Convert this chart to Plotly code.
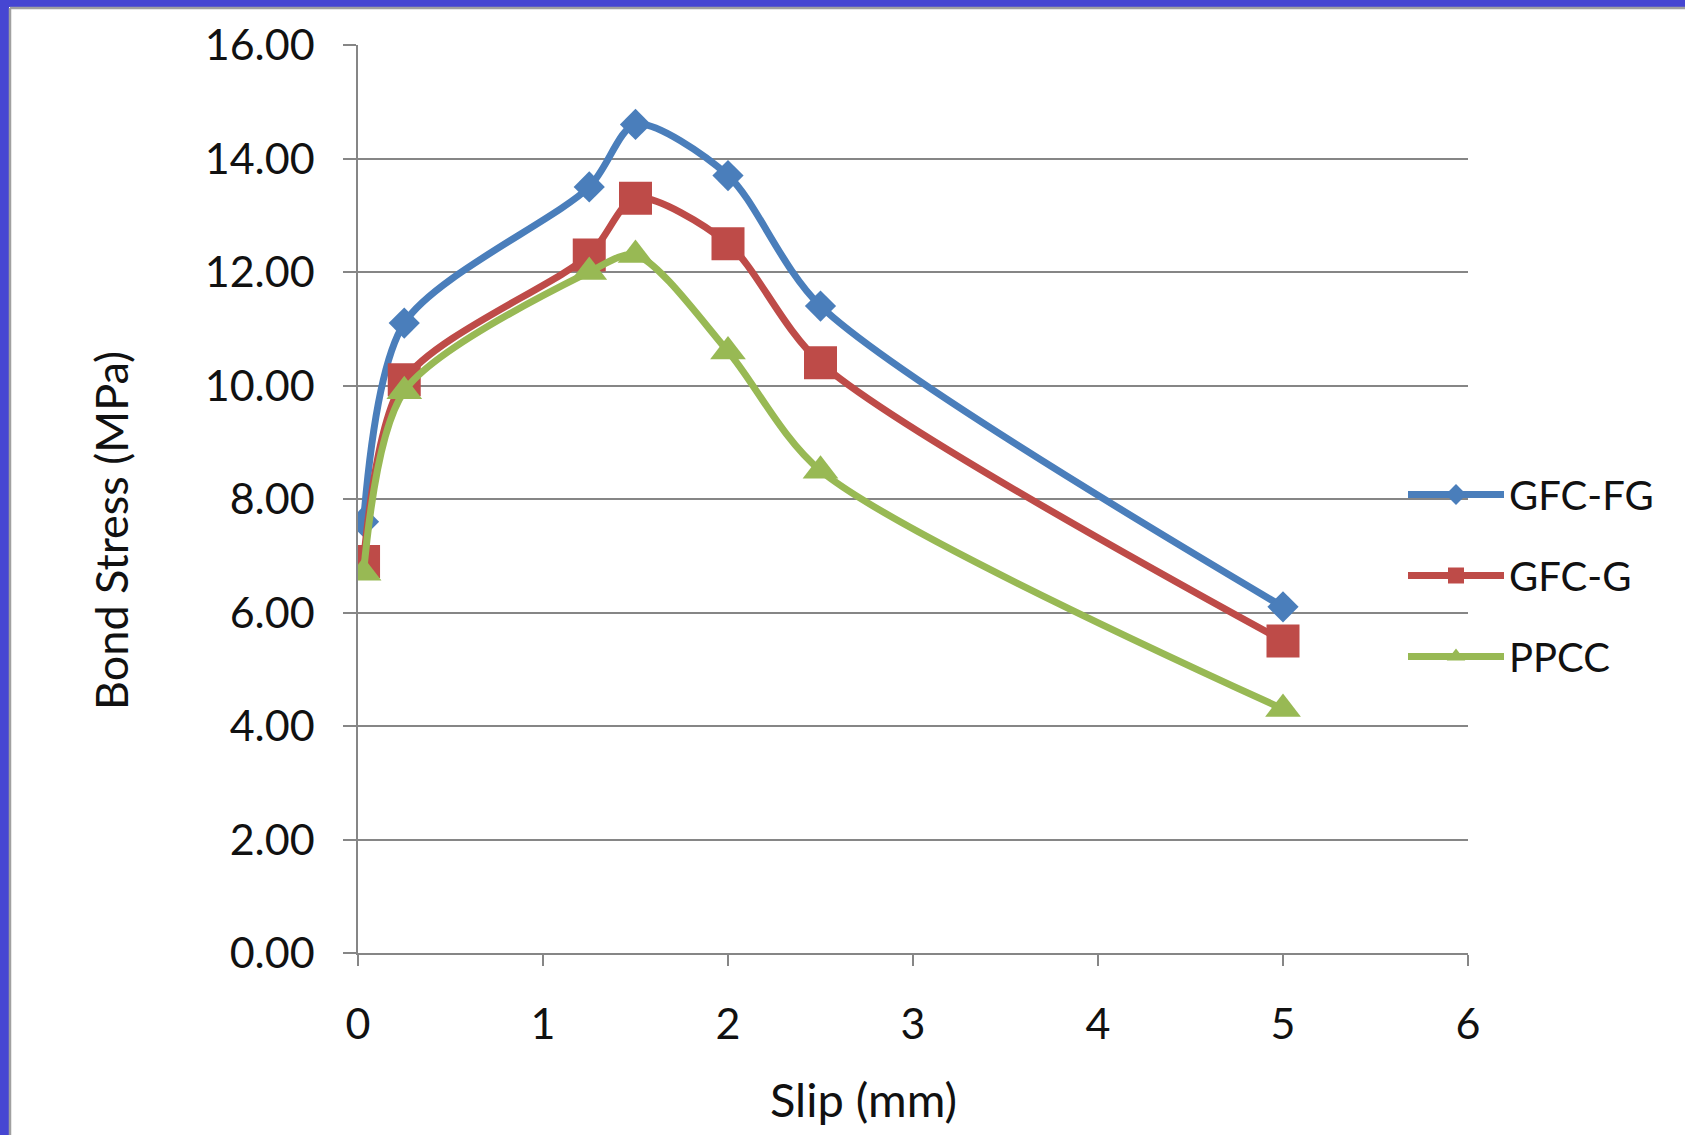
import plotly.graph_objects as go

# Bond stress vs slip for three concrete mixes
slip_mm = [0.03, 0.25, 1.25, 1.5, 2.0, 2.5, 5.0]
gfc_fg = [7.6, 11.1, 13.5, 14.6, 13.7, 11.4, 6.1]
gfc_g = [6.9, 10.1, 12.3, 13.3, 12.5, 10.4, 5.5]
ppcc = [6.7, 9.9, 12.0, 12.3, 10.6, 8.5, 4.3]
series_names = ["GFC-FG", "GFC-G", "PPCC"]
y_tick_vals = [0, 2, 4, 6, 8, 10, 12, 14, 16]
x_tick_vals = [0, 1, 2, 3, 4, 5, 6]

W, H = 1685, 1135
ML, MR, MT, MB = 358, 217, 45, 182
PW, PH = W - ML - MR, H - MT - MB

FONT = "Lato"
GRID = "#868686"
colors = ["#4A7EBB", "#BE4B48", "#98B954"]
symbols = ["diamond", "square", "triangle-up"]
sizes = [24, 33, 31]


def px_x(px):
    return (px - ML) / PW


def px_y(py):
    return (H - MB - py) / PH


fig = go.Figure()
for i, (name, ys) in enumerate(zip(series_names, [gfc_fg, gfc_g, ppcc])):
    fig.add_trace(go.Scatter(
        x=slip_mm, y=ys, name=name, mode="lines+markers",
        line=dict(color=colors[i], width=7, shape="spline", smoothing=0.8),
        marker=dict(symbol=symbols[i], size=sizes[i], color=colors[i]),
        legendgroup=name,
    ))

shapes = [
    # frame around the slide: blue band with thin grey inner edge
    dict(type="rect", xref="paper", yref="paper",
         x0=px_x(0), x1=px_x(9), y0=px_y(H), y1=px_y(0),
         fillcolor="#4646D2", line_width=0, layer="above"),
    dict(type="rect", xref="paper", yref="paper",
         x0=px_x(0), x1=px_x(W), y0=px_y(7), y1=px_y(0),
         fillcolor="#4646D2", line_width=0, layer="above"),
    dict(type="line", xref="paper", yref="paper",
         x0=px_x(10), x1=px_x(10), y0=px_y(H), y1=px_y(8),
         line=dict(color="#A0A0A0", width=2.5)),
    dict(type="line", xref="paper", yref="paper",
         x0=px_x(10), x1=px_x(W), y0=px_y(8), y1=px_y(8),
         line=dict(color="#A0A0A0", width=2.5)),
]

annotations = [
    dict(text="Bond Stress (MPa)", xref="paper", yref="paper",
         x=px_x(111), y=px_y(531), textangle=-90, showarrow=False,
         xanchor="center", yanchor="middle",
         font=dict(family=FONT, size=45, color="#111111")),
    dict(text="Slip (mm)", xref="paper", yref="paper",
         x=px_x(863), y=px_y(1099), showarrow=False,
         xanchor="center", yanchor="middle",
         font=dict(family=FONT, size=47, color="#111111")),
]

fig.update_layout(
    width=W, height=H,
    margin=dict(l=ML, r=MR, t=MT, b=MB),
    paper_bgcolor="white", plot_bgcolor="white",
    font=dict(family=FONT, size=43, color="#111111"),
    showlegend=True,
    legend=dict(x=px_x(1403), y=px_y(462), xanchor="left", yanchor="top",
                bgcolor="rgba(0,0,0,0)", itemwidth=96,
                tracegroupgap=26, font=dict(family=FONT, size=40)),
    shapes=shapes,
    annotations=annotations,
)
fig.update_xaxes(
    range=[0, 6], tickvals=x_tick_vals, ticktext=[str(v) for v in x_tick_vals],
    showgrid=False, zeroline=False, showline=True, linecolor=GRID, linewidth=1.5,
    ticks="outside", ticklen=11, tickcolor=GRID, tickwidth=1.5,
    ticklabelstandoff=22,
)
fig.update_yaxes(
    range=[0, 16], tickvals=y_tick_vals, ticktext=[f"{v:.2f}" for v in y_tick_vals],
    showgrid=True, gridcolor=GRID, gridwidth=1.5, zeroline=False,
    showline=True, linecolor=GRID, linewidth=1.5,
    ticks="outside", ticklen=13, tickcolor=GRID, tickwidth=1.5,
    ticklabelstandoff=20,
)

fig.write_html("out.html")
